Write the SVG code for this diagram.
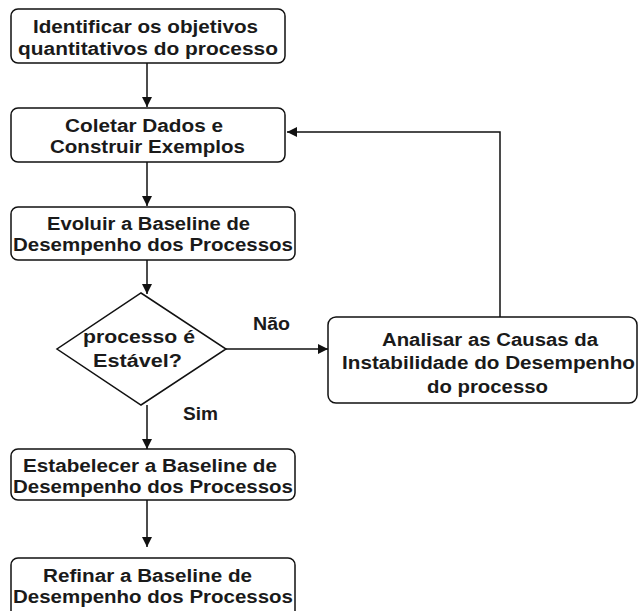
<svg xmlns="http://www.w3.org/2000/svg" width="639" height="611" viewBox="0 0 639 611">
  <style>
    .box { fill: #ffffff; stroke: #111111; stroke-width: 1.5; }
    .edge { fill: none; stroke: #111111; stroke-width: 1.5; }
    text { font-family: "Liberation Sans", Arial, sans-serif; font-size: 18px; font-weight: bold; fill: #1a1a1a; }
  </style>
  <defs>
    <marker id="arrow" viewBox="0 0 10 10" refX="10" refY="5" markerWidth="10" markerHeight="10" markerUnits="userSpaceOnUse" orient="auto">
      <path d="M0,0 L10,5 L0,10 Z" fill="#111111"/>
    </marker>
  </defs>
  <rect width="639" height="611" fill="#ffffff"/>

  <g id="connectors">
    <line class="edge" x1="147" y1="63" x2="147" y2="107" marker-end="url(#arrow)"/>
    <line class="edge" x1="147" y1="162" x2="147" y2="206" marker-end="url(#arrow)"/>
    <line class="edge" x1="147" y1="260" x2="147" y2="294" marker-end="url(#arrow)"/>
    <line class="edge" x1="226" y1="349" x2="328" y2="349" marker-end="url(#arrow)"/>
    <polyline class="edge" points="500,317 500,132 287,132" marker-end="url(#arrow)"/>
    <line class="edge" x1="147" y1="405" x2="147" y2="449" marker-end="url(#arrow)"/>
    <line class="edge" x1="147" y1="500" x2="147" y2="547" marker-end="url(#arrow)"/>
    <text x="253" y="330" textLength="37" lengthAdjust="spacingAndGlyphs">Não</text>
    <text x="183" y="420" textLength="35" lengthAdjust="spacingAndGlyphs">Sim</text>
  </g>

  <g id="identificar">
    <rect class="box" x="11" y="9" width="274" height="54" rx="7"/>
    <text x="33" y="33" textLength="225" lengthAdjust="spacingAndGlyphs">Identificar os objetivos</text>
    <text x="18" y="55" textLength="260" lengthAdjust="spacingAndGlyphs">quantitativos do processo</text>
  </g>

  <g id="coletar">
    <rect class="box" x="11" y="108" width="274" height="54" rx="7"/>
    <text x="65" y="132" textLength="158" lengthAdjust="spacingAndGlyphs">Coletar Dados e</text>
    <text x="50" y="153" textLength="195" lengthAdjust="spacingAndGlyphs">Construir Exemplos</text>
  </g>

  <g id="evoluir">
    <rect class="box" x="11" y="207" width="284" height="53" rx="7"/>
    <text x="47" y="230" textLength="203" lengthAdjust="spacingAndGlyphs">Evoluir a Baseline de</text>
    <text x="13" y="251" textLength="280" lengthAdjust="spacingAndGlyphs">Desempenho dos Processos</text>
  </g>

  <g id="decisao">
    <polygon class="box" points="141,293 226,349 141,405 57,349"/>
    <text x="83" y="343" textLength="112" lengthAdjust="spacingAndGlyphs">processo é</text>
    <text x="93" y="367" textLength="89" lengthAdjust="spacingAndGlyphs">Estável?</text>
  </g>

  <g id="analisar">
    <rect class="box" x="328" y="317" width="309" height="86" rx="8"/>
    <text x="382" y="346" textLength="216" lengthAdjust="spacingAndGlyphs">Analisar as Causas da</text>
    <text x="342" y="369" textLength="293" lengthAdjust="spacingAndGlyphs">Instabilidade do Desempenho</text>
    <text x="427" y="393" textLength="121" lengthAdjust="spacingAndGlyphs">do processo</text>
  </g>

  <g id="estabelecer">
    <rect class="box" x="11" y="449" width="284" height="51" rx="7"/>
    <text x="23" y="472" textLength="254" lengthAdjust="spacingAndGlyphs">Estabelecer a Baseline de</text>
    <text x="13" y="493" textLength="280" lengthAdjust="spacingAndGlyphs">Desempenho dos Processos</text>
  </g>

  <g id="refinar">
    <rect class="box" x="11" y="558" width="284" height="60" rx="7"/>
    <text x="43" y="582" textLength="209" lengthAdjust="spacingAndGlyphs">Refinar a Baseline de</text>
    <text x="13" y="603" textLength="280" lengthAdjust="spacingAndGlyphs">Desempenho dos Processos</text>
  </g>
</svg>
